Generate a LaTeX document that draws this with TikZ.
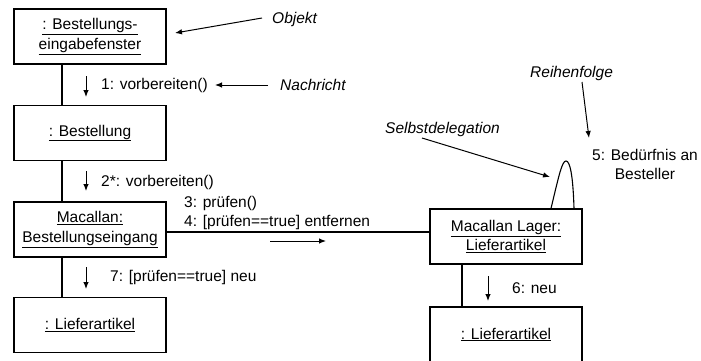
\documentclass[tikz,border=0pt]{standalone}
\usepackage{fontspec}
\setmainfont{Liberation Sans}
\usetikzlibrary{arrows.meta}
\begin{document}
\begin{tikzpicture}[x=1pt,y=-1pt,
  font=\fontsize{15.5}{18.5}\selectfont,
  obj/.style={draw,line width=1.1pt,minimum width=152pt,minimum height=55pt,align=center,inner sep=0pt},
  link/.style={line width=1.1pt},
  msg/.style={line width=1pt,-{Latex[length=7pt,width=5.5pt]}},
  note/.style={font=\fontsize{15.5}{18.5}\selectfont\itshape,anchor=west,inner sep=0pt},
  lbl/.style={anchor=west,inner sep=0pt}]
\useasboundingbox (0,0) rectangle (701,360);
\node[obj] (b1) at (90,36.5) {\underline{: Bestellungs-}\\[1pt]\underline{eingabefenster}};
\node[obj] (b2) at (90,133) {\underline{: Bestellung}};
\node[obj] (b3) at (90,229.5) {\underline{Macallan:}\\[1pt]\underline{Bestellungseingang}};
\node[obj] (b5) at (90,325) {\underline{: Lieferartikel}};
\node[obj] (b4) at (506,236.5) {\underline{Macallan Lager:}\\[1pt]\underline{Lieferartikel}};
\node[obj] (b6) at (506,334.5) {\underline{: Lieferartikel}};
% links
\draw[link] (b1.south -| 62,0) -- (b2.north -| 62,0);
\draw[link] (b2.south -| 62,0) -- (b3.north -| 62,0);
\draw[link] (b3.south -| 62,0) -- (b5.north -| 62,0);
\draw[link] (b3.east |- 0,232) -- (b4.west |- 0,232);
\draw[link] (b4.south -| 462,0) -- (b6.north -| 462,0);
\draw[link] (b4.north -| 551,0) .. controls (559,175) and (562,161) .. (566,161)
  .. controls (570,161) and (573,175) .. (b4.north -| 574,0);
% message arrows
\coordinate (m1a) at (86,76); \coordinate (m1b) at (86,97);
\draw[msg] (m1a) -- (m1b);
\node[lbl] (l1) at (101,85) {1: vorbereiten()};
\coordinate (m2a) at (86,171); \coordinate (m2b) at (86,191);
\draw[msg] (m2a) -- (m2b);
\node[lbl] (l2) at (101,182) {2*: vorbereiten()};
\coordinate (m3a) at (270,241); \coordinate (m3b) at (326,241);
\draw[msg] (m3a) -- (m3b);
\node[lbl] (l3) at (184,203) {3: prüfen()};
\node[lbl] (l4) at (184,222) {4: [prüfen==true] entfernen};
\coordinate (m7a) at (86,267); \coordinate (m7b) at (86,289);
\draw[msg] (m7a) -- (m7b);
\node[lbl] (l7) at (110,277) {7: [prüfen==true] neu};
\coordinate (m6a) at (488,276); \coordinate (m6b) at (488,301);
\draw[msg] (m6a) -- (m6b);
\node[lbl] (l6) at (512,288) {6: neu};
\node[align=center,inner sep=0pt] (l5) at (645,164.5) {5: Bedürfnis an\\Besteller};
% notes
\node[note] (nObj) at (272,19) {Objekt};
\draw[msg] (nObj.west) ++(-10,-1) coordinate (o1) (o1) -- (175,33);
\node[note] (nNach) at (280,85) {Nachricht};
\draw[msg] (nNach.west) ++(-12,0) coordinate (n1) (n1) -- (215,85);
\node[note] (nSelb) at (385,129) {Selbstdelegation};
\coordinate (s1) at (422,138);
\draw[msg] (s1) -- (550,177);
\node[note] (nReih) at (530,73) {Reihenfolge};
\coordinate (r1) at (582,82);
\draw[msg] (r1) -- (589,138);
\end{tikzpicture}
\end{document}
